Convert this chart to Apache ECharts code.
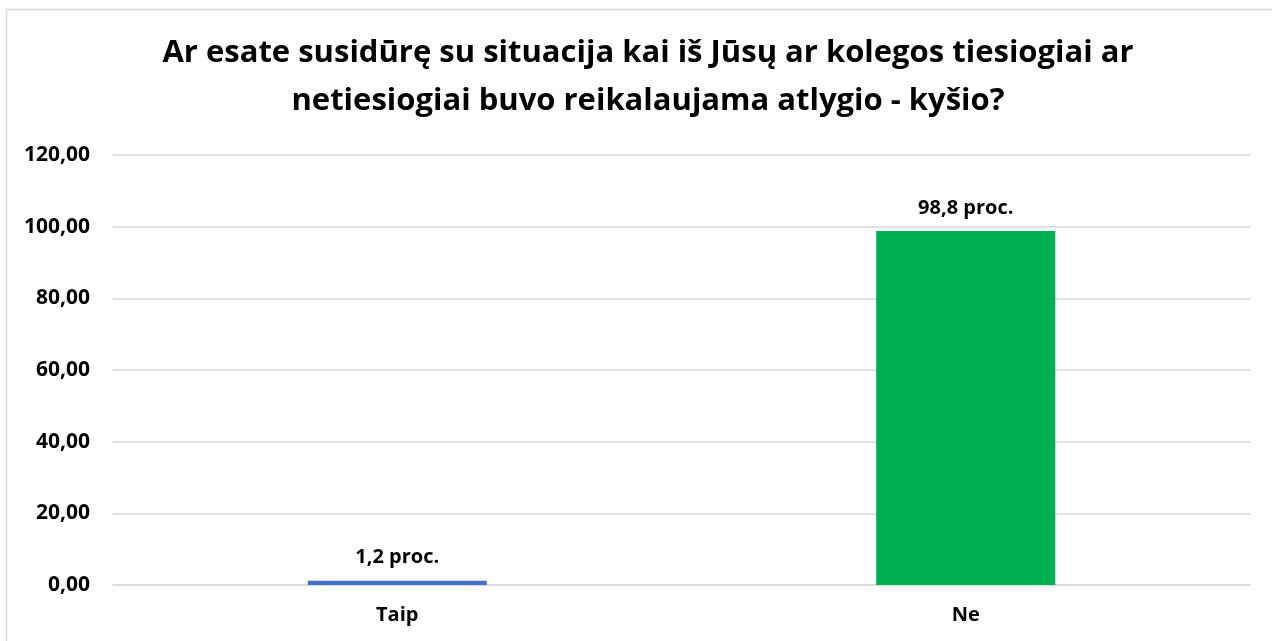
<!DOCTYPE html>
<html>
<head>
<meta charset="utf-8">
<script src="https://cdn.jsdelivr.net/npm/echarts@6/dist/echarts.min.js"></script>
<style>
  html, body { margin: 0; padding: 0; background: #fff; }
  #chart { width: 1272px; height: 641px; }
</style>
</head>
<body>
<div id="chart"></div>
<script>
// duomenys
const categories = ['Taip', 'Ne'];
const values = [1.2, 98.8];
const barColors = ['#4472C4', '#00B050'];
const yTicks = { min: 0, max: 120, interval: 20 };

const fontFam = '"Open Sans", "Noto Sans", sans-serif';

const chart = echarts.init(document.getElementById('chart'), null, { renderer: 'canvas' });

const option = {
  backgroundColor: '#fff',
  animation: false,
  title: {
    text: 'Ar esate susidūrę su situacija kai iš Jūsų ar kolegos tiesiogiai ar\nnetiesiogiai buvo reikalaujama atlygio - kyšio?',
    left: 643,
    textAlign: 'center',
    top: 24,
    textStyle: {
      fontFamily: fontFam,
      fontSize: 31,
      fontWeight: 'bold',
      color: '#000',
      lineHeight: 48
    }
  },
  graphic: [{
    type: 'rect',
    shape: { x: 6.5, y: 9.5, width: 1300, height: 700 },
    style: { fill: 'none', stroke: '#D9D9D9', lineWidth: 1.5 },
    silent: true
  }],
  grid: {
    left: 113,
    right: 22,
    top: 155,
    bottom: 56,
    containLabel: false
  },
  xAxis: {
    type: 'category',
    data: categories,
    axisLine: { show: true, lineStyle: { color: '#D9D9D9', width: 1.5 } },
    axisTick: { show: false },
    axisLabel: {
      fontFamily: fontFam,
      fontSize: 20,
      fontWeight: 'bold',
      color: '#000',
      margin: 20
    }
  },
  yAxis: {
    type: 'value',
    min: yTicks.min,
    max: yTicks.max,
    interval: yTicks.interval,
    axisLine: { show: false },
    axisTick: { show: false },
    splitLine: { lineStyle: { color: '#D9D9D9', width: 1.5 } },
    axisLabel: {
      fontFamily: fontFam,
      fontSize: 21,
      fontWeight: 'bold',
      color: '#000',
      margin: 23,
      formatter: v => v.toFixed(2).replace('.', ',')
    }
  },
  series: [{
    type: 'bar',
    barWidth: '31.5%',
    data: values.map((v, i) => ({ value: v, itemStyle: { color: barColors[i] } })),
    label: {
      show: true,
      position: 'top',
      distance: 13,
      fontFamily: fontFam,
      fontSize: 20,
      fontWeight: 'bold',
      color: '#000',
      formatter: p => String(p.value).replace('.', ',') + ' proc.'
    }
  }]
};

chart.setOption(option);
</script>
</body>
</html>
